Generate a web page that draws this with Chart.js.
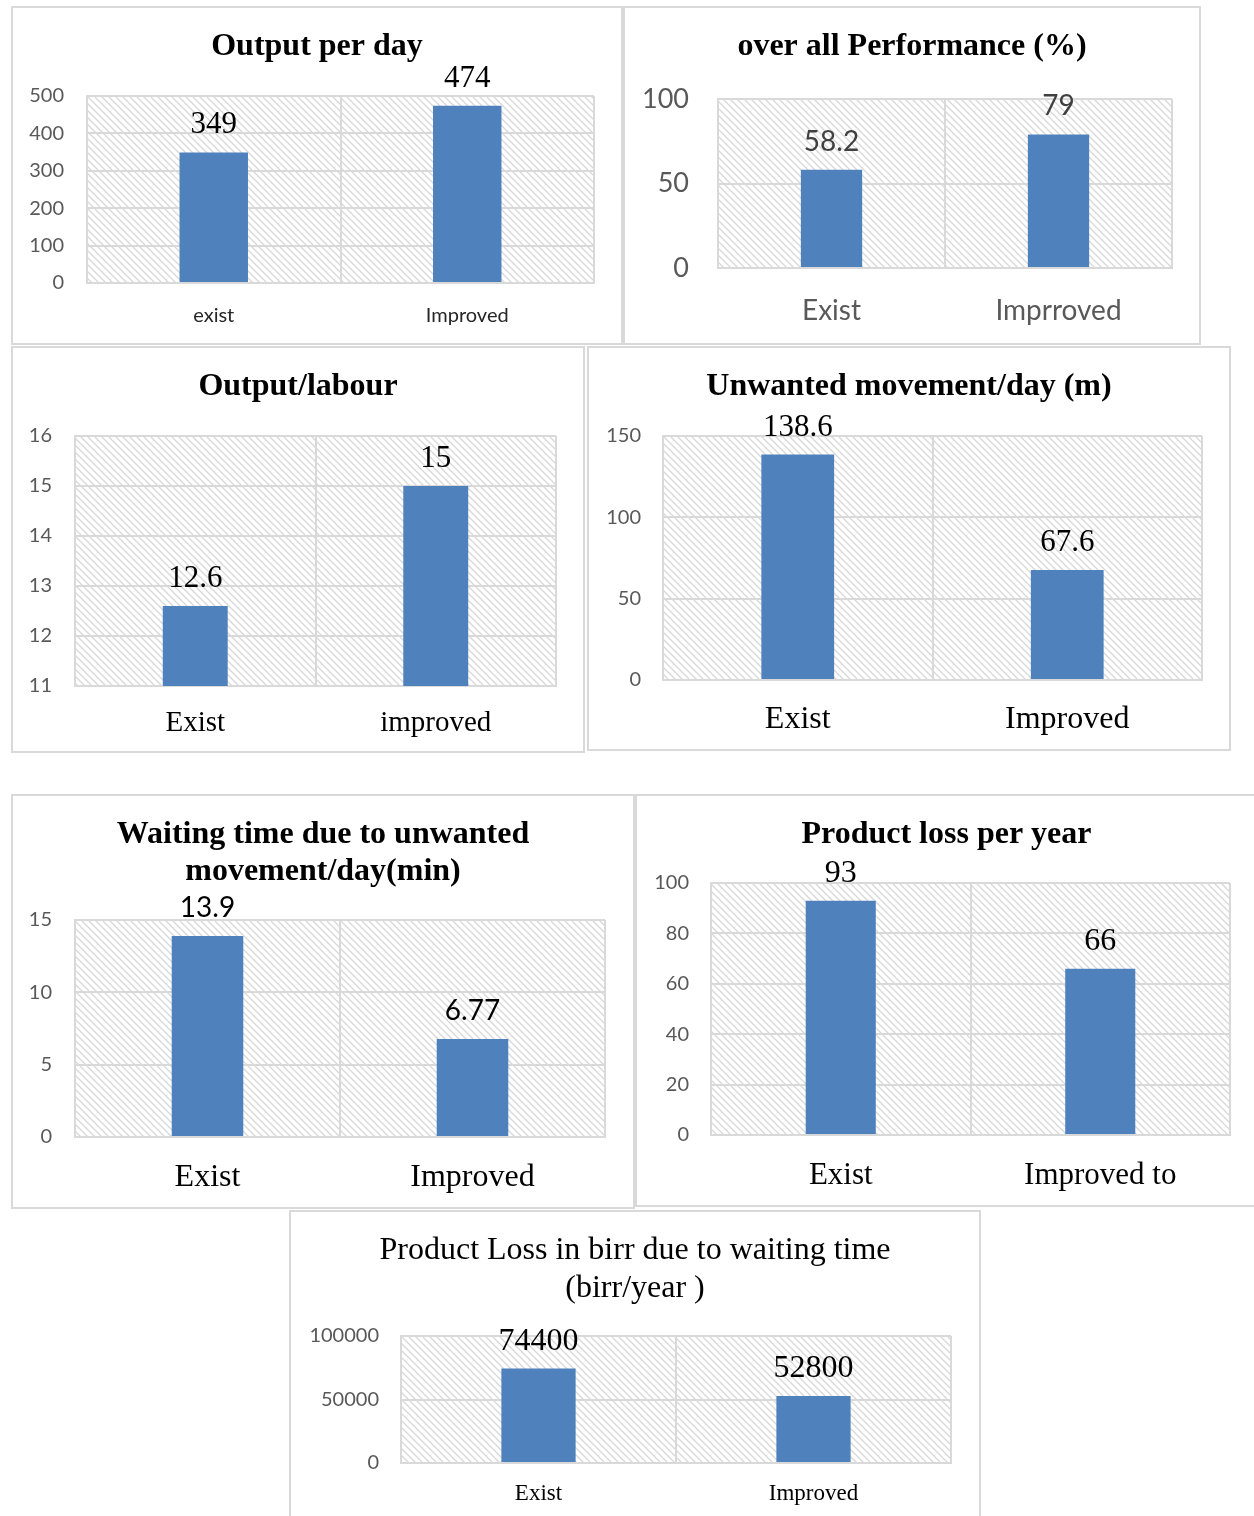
<!DOCTYPE html>
<html>
<head>
<meta charset="utf-8">
<script src="https://cdn.jsdelivr.net/npm/chart.js@4/dist/chart.umd.min.js"></script>
<style>
body{margin:0;background:#fff;width:1254px;height:1516px;position:relative;overflow:hidden}
.box{position:absolute;border:2px solid #d9d9d9;box-sizing:border-box;background:#fff}
.box canvas{display:block}
</style>
</head>
<body>
<div class="box" id="b1"><canvas id="c1"></canvas></div>
<div class="box" id="b2"><canvas id="c2"></canvas></div>
<div class="box" id="b3"><canvas id="c3"></canvas></div>
<div class="box" id="b4"><canvas id="c4"></canvas></div>
<div class="box" id="b5"><canvas id="c5"></canvas></div>
<div class="box" id="b6"><canvas id="c6"></canvas></div>
<div class="box" id="b7"><canvas id="c7"></canvas></div>
<script>
// data
var cats1=['exist','Improved'];
var vals1=[349,474];
var ticks1=[0,100,200,300,400,500];

var cats2=['Exist','Imprroved'];
var vals2=[58.2,79];
var ticks2=[0,50,100];

var cats3=['Exist','improved'];
var vals3=[12.6,15];
var ticks3=[11,12,13,14,15,16];

var cats4=['Exist','Improved'];
var vals4=[138.6,67.6];
var ticks4=[0,50,100,150];

var cats5=['Exist','Improved'];
var vals5=[13.9,6.77];
var ticks5=[0,5,10,15];

var cats6=['Exist','Improved to'];
var vals6=[93,66];
var ticks6=[0,20,40,60,80,100];

var cats7=['Exist','Improved'];
var vals7=[74400,52800];
var ticks7=[0,50000,100000];

var SERIF='"Liberation Serif","Times New Roman",serif';
var SANS='Lato,"Liberation Sans",sans-serif';
var BLUE='#4f81bd';
var GRID='#d9d9d9';

var hatchCanvas=document.createElement('canvas');
hatchCanvas.width=7;hatchCanvas.height=7;
(function(){
  var x=hatchCanvas.getContext('2d');
  x.strokeStyle='#d8d8d8';x.lineWidth=1.3;
  x.beginPath();
  x.moveTo(-1,-1);x.lineTo(8,8);
  x.moveTo(-1,6);x.lineTo(1,8);
  x.moveTo(6,-1);x.lineTo(8,1);
  x.stroke();
})();

var hatchPlugin={
  id:'hatch',
  beforeDraw:function(chart){
    var a=chart.chartArea,ctx=chart.ctx;
    ctx.save();
    ctx.fillStyle=ctx.createPattern(hatchCanvas,'repeat');
    ctx.fillRect(a.left,a.top,a.right-a.left,a.bottom-a.top);
    ctx.restore();
  }
};

var valuePlugin={
  id:'values',
  afterDatasetsDraw:function(chart,args,opts){
    var ctx=chart.ctx;
    var meta=chart.getDatasetMeta(0);
    ctx.save();
    ctx.font=opts.font;
    ctx.fillStyle=opts.color;
    ctx.textAlign='center';
    ctx.textBaseline='alphabetic';
    meta.data.forEach(function(bar,i){
      ctx.fillText(String(chart.data.datasets[0].data[i]),bar.x,bar.y-19);
    });
    ctx.restore();
  }
};

function makeChart(n,cats,vals,ticks,L){
  var bx=L.box, inX=bx[0]+2, inY=bx[1]+2;
  var el=document.getElementById('b'+n);
  el.style.left=bx[0]+'px';el.style.top=bx[1]+'px';
  el.style.width=(bx[2]-bx[0])+'px';el.style.height=(bx[3]-bx[1])+'px';
  var cv=document.getElementById('c'+n);
  var W=bx[2]-bx[0]-4,H=bx[3]-bx[1]-4;
  cv.width=W;cv.height=H;
  cv.style.width=W+'px';cv.style.height=H+'px';
  var p=L.plot;
  var tlh=L.titleSize*L.titleLH;
  var tPadTop=L.titleY-inY-tlh/2;
  var tPadBottom=p[1]-inY-tPadTop-tlh*L.title.length;
  var rightGap=inX+W-p[2];
  new Chart(cv,{
    type:'bar',
    data:{labels:cats,datasets:[{data:vals,backgroundColor:BLUE,barPercentage:0.27,categoryPercentage:1}]},
    options:{
      responsive:false,
      animation:false,
      devicePixelRatio:1,
      layout:{padding:0},
      plugins:{
        legend:{display:false},
        tooltip:{enabled:false},
        title:{display:true,text:L.title,color:'#000',
          font:{family:SERIF,size:L.titleSize,weight:L.titleWeight,lineHeight:L.titleLH},
          padding:{top:tPadTop,bottom:tPadBottom}},
        values:{font:L.valFont,color:L.valColor}
      },
      scales:{
        x:{
          grid:{color:GRID,lineWidth:2,drawTicks:false,offset:true},
          border:{color:GRID,width:2},
          ticks:{color:L.catColor,font:{family:L.catFamily,size:L.catSize},
            padding:L.catY-p[3]-0.6*L.catSize},
          afterFit:function(s){s.height=inY+H-p[3];}
        },
        y:{
          min:ticks[0],max:ticks[ticks.length-1],
          grid:{color:GRID,lineWidth:2,drawTicks:false},
          border:{color:GRID,width:2},
          ticks:{stepSize:ticks[1]-ticks[0],color:'#595959',
            font:{family:SANS,size:L.tickSize},padding:L.tickPad,
            callback:function(v){return String(v);}},
          afterFit:function(s){s.width=p[0]-inX;}
        },
        gap:{
          type:'linear',position:'right',
          grid:{display:false},border:{display:false},ticks:{display:false},
          afterFit:function(s){s.width=rightGap;}
        }
      }
    },
    plugins:[hatchPlugin,valuePlugin]
  });
}

var layouts=[
  {box:[11,6,623,345],plot:[87,96,594,283],title:['Output per day'],titleY:47,titleSize:32,titleWeight:'bold',titleLH:1.16,
   tickSize:20,tickPad:23,catFamily:SANS,catSize:20,catColor:'#262626',catY:316,valFont:'31px '+SERIF,valColor:'#000'},
  {box:[623,6,1201,345],plot:[718,99,1172,268],title:['over all Performance (%)'],titleY:47,titleSize:32,titleWeight:'bold',titleLH:1.16,
   tickSize:27,tickPad:29,catFamily:SANS,catSize:28,catColor:'#595959',catY:311,valFont:'28px '+SANS,valColor:'#404040'},
  {box:[11,346,585,753],plot:[75,436,556,686],title:['Output/labour'],titleY:387,titleSize:32,titleWeight:'bold',titleLH:1.16,
   tickSize:20,tickPad:23,catFamily:SERIF,catSize:29,catColor:'#000',catY:723,valFont:'31px '+SERIF,valColor:'#000'},
  {box:[587,346,1231,751],plot:[663,436,1202,680],title:['Unwanted movement/day (m)'],titleY:387,titleSize:32,titleWeight:'bold',titleLH:1.16,
   tickSize:20,tickPad:22,catFamily:SERIF,catSize:32,catColor:'#000',catY:720,valFont:'31px '+SERIF,valColor:'#000'},
  {box:[11,794,635,1209],plot:[75,920,605,1137],title:['Waiting time due to unwanted','movement/day(min)'],titleY:835,titleSize:32,titleWeight:'bold',titleLH:1.16,
   tickSize:20,tickPad:23,catFamily:SERIF,catSize:32,catColor:'#000',catY:1178,valFont:'28px '+SANS,valColor:'#000'},
  {box:[635,794,1258,1207],plot:[711,883,1230,1135],title:['Product loss per year'],titleY:835,titleSize:32,titleWeight:'bold',titleLH:1.16,
   tickSize:20,tickPad:22,catFamily:SERIF,catSize:31,catColor:'#000',catY:1176,valFont:'32px '+SERIF,valColor:'#000'},
  {box:[289,1210,981,1520],plot:[401,1336,951,1463],title:['Product Loss in birr due to waiting time','(birr/year )'],titleY:1251,titleSize:32,titleWeight:'normal',titleLH:1.16,
   tickSize:20,tickPad:22,catFamily:SERIF,catSize:23,catColor:'#000',catY:1494,valFont:'32px '+SERIF,valColor:'#000'}
];

var allCats=[cats1,cats2,cats3,cats4,cats5,cats6,cats7];
var allVals=[vals1,vals2,vals3,vals4,vals5,vals6,vals7];
var allTicks=[ticks1,ticks2,ticks3,ticks4,ticks5,ticks6,ticks7];
for(var i=0;i<7;i++){
  makeChart(i+1,allCats[i],allVals[i],allTicks[i],layouts[i]);
}
</script>
</body>
</html>
